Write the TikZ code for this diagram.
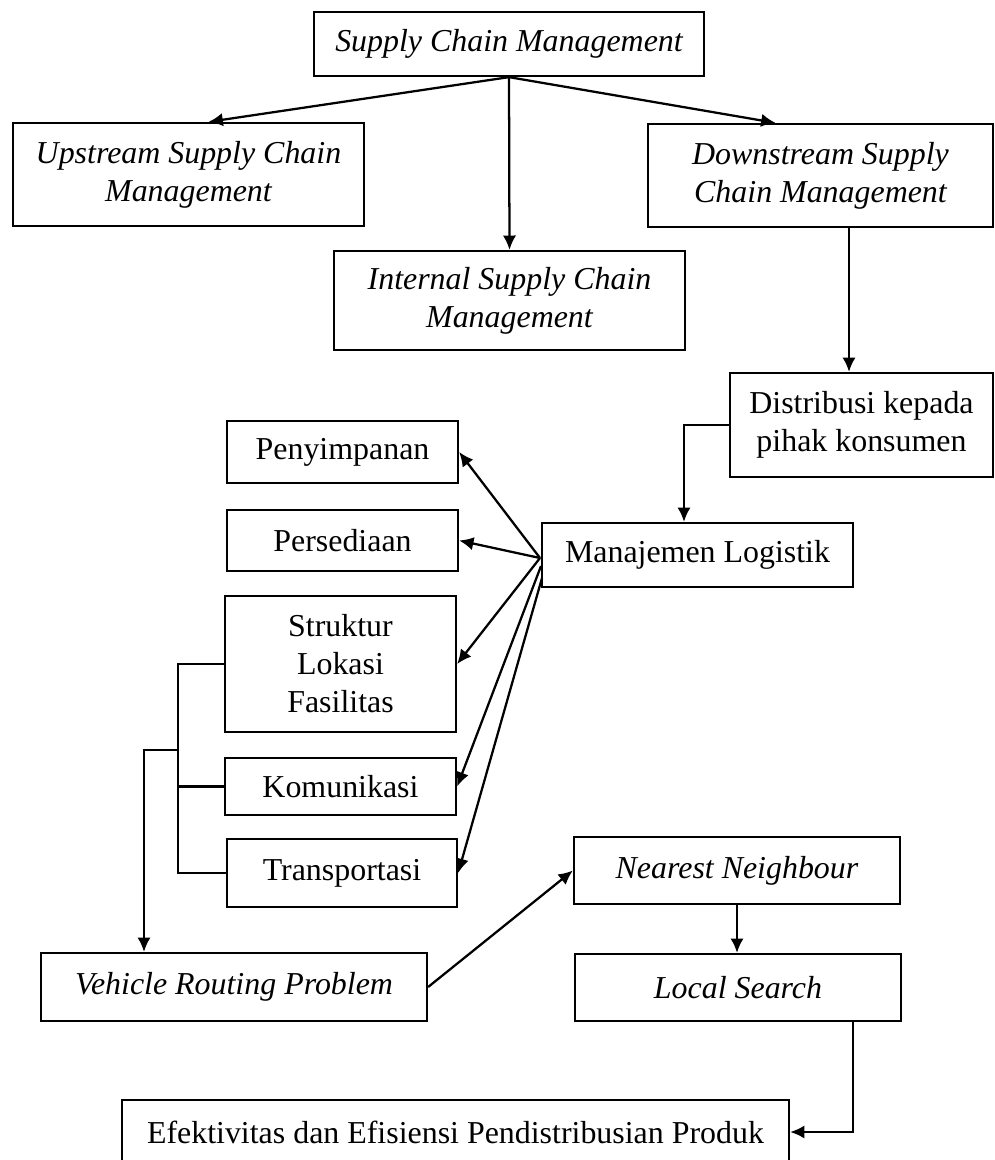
\documentclass[tikz,border=0pt]{standalone}
\usepackage{fontspec}
\setmainfont{Liberation Serif}
\usetikzlibrary{arrows.meta,calc}
\newcommand{\unitpx}{0.376pt}

\begin{document}
\begin{tikzpicture}
	[x=\unitpx,y=-\unitpx,line width=0.85pt,>={Latex[length=5.4pt,width=5pt]},
	box/.style={draw,rectangle,align=center,inner sep=0pt,font=\fontsize{12}{14.3}\selectfont},
	itbox/.style={box,font=\fontsize{12}{14.3}\selectfont\itshape}]
	\useasboundingbox (0,0) rectangle (995,1160);
	\node[itbox,minimum width=390*\unitpx,minimum height=64*\unitpx] (scm) at (509,44) {Supply Chain Management};
	\node[itbox,minimum width=351*\unitpx,minimum height=103*\unitpx] (up) at (188.5,174.5) {Upstream Supply Chain\\Management};
	\node[itbox,minimum width=345*\unitpx,minimum height=103*\unitpx] (down) at (820.5,175.5) {Downstream Supply\\Chain Management};
	\node[itbox,minimum width=351*\unitpx,minimum height=99*\unitpx] (int) at (509.5,300.5) {Internal Supply Chain\\Management};
	\node[box,minimum width=263*\unitpx,minimum height=104*\unitpx] (dist) at (861.5,425) {Distribusi kepada\\pihak konsumen};
	\node[box,minimum width=311*\unitpx,minimum height=64*\unitpx] (man) at (697.5,555) {Manajemen Logistik};
	\node[box,minimum width=231*\unitpx,minimum height=62*\unitpx] (peny) at (342.5,452) {Penyimpanan};
	\node[box,minimum width=231*\unitpx,minimum height=61*\unitpx] (pers) at (342.5,540.5) {Persediaan};
	\node[box,minimum width=231*\unitpx,minimum height=136*\unitpx] (stru) at (340.5,664) {Struktur\\Lokasi\\Fasilitas};
	\node[box,minimum width=231*\unitpx,minimum height=57*\unitpx] (kom) at (340.5,786.5) {Komunikasi};
	\node[box,minimum width=230*\unitpx,minimum height=68*\unitpx] (trans) at (342,873) {Transportasi};
	\node[itbox,minimum width=386*\unitpx,minimum height=68*\unitpx] (vrp) at (234,987) {Vehicle Routing Problem};
	\node[itbox,minimum width=326*\unitpx,minimum height=67*\unitpx] (nn) at (737,870.5) {Nearest Neighbour};
	\node[itbox,minimum width=326*\unitpx,minimum height=67*\unitpx] (ls) at (738,987.5) {Local Search};
	\node[box,minimum width=667*\unitpx,minimum height=64*\unitpx] (efek) at (455.5,1132) {Efektivitas dan Efisiensi Pendistribusian Produk};
	
	\coordinate (manA) at (540,558);
	\coordinate (manB) at (541,566);
	\coordinate (manC) at (542,578);
	\coordinate (brkMid) at (179,750);
	
	\draw[->] (scm.south) -- ($(up.north)+(20,0)$);
	\draw[->] (scm.south) -- (int.north);
	\draw[->] (scm.south) -- ($(down.north)+(-45,0)$);
	\draw[->] ($(down.south)+(28.5,0)$) -- ($(dist.north)+(-12.5,0)$);
	\draw[->] (dist.west) -| ($(man.north)+(-13.5,0)$);
	\foreach \from/\to in {manA/peny.east,manA/pers.east,manA/stru.east,manB/kom.east,manC/trans.east}
		\draw[->] (\from) -- (\to);
	\draw (stru.west) -- ++(-46,0) coordinate (brk) |- (trans.west);
	\draw (kom.west) -- (kom.west -| brk);
	\draw[->] (brkMid) -| ($(vrp.north)+(-90,0)$);
	\draw[->] (vrp.east) -- (nn.west);
	\draw[->] (nn.south) -- (nn.south |- ls.north);
	\draw[->] ($(ls.south)+(115,0)$) |- (efek.east);
\end{tikzpicture}
\end{document}
